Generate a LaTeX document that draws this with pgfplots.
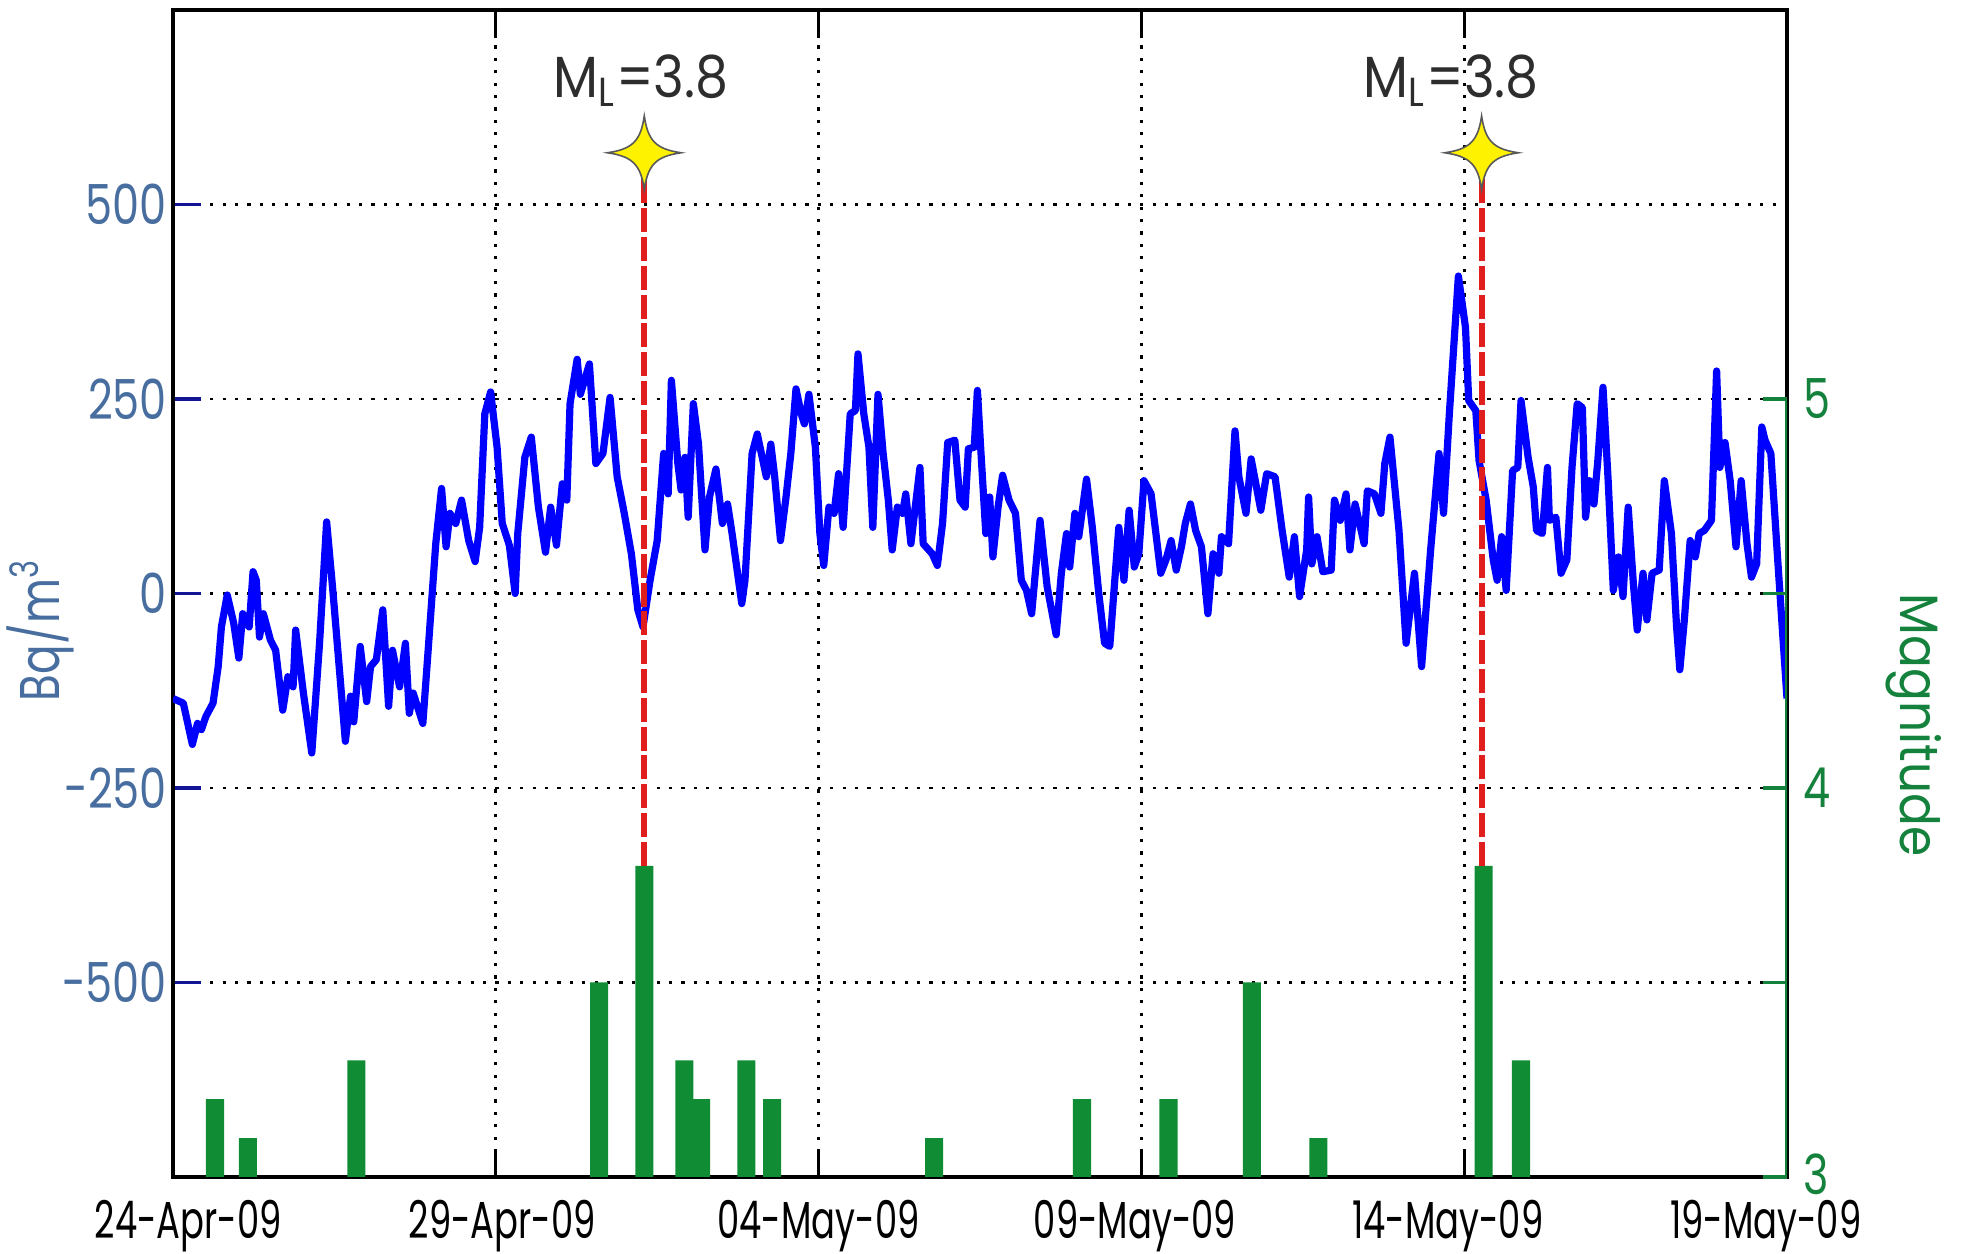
\documentclass[border=0pt]{standalone}
\usepackage{fontspec}
\setmainfont{Poppins}[FakeStretch=0.9]
\newfontfamily\xtickfont{Poppins}[FakeStretch=0.68]
\newfontfamily\ytickfont{Poppins}[FakeStretch=0.78]
\usepackage{pgfplots}
\pgfplotsset{compat=1.18}

\definecolor{radonblue}{RGB}{0,0,255}
\definecolor{labelblue}{RGB}{72,110,160}
\definecolor{tickblue}{RGB}{20,20,150}
\definecolor{maggreen}{RGB}{16,140,52}
\definecolor{axgreen}{RGB}{20,130,60}
\definecolor{quakered}{RGB}{225,30,30}
\definecolor{textgray}{RGB}{45,45,45}

% four-pointed star used for the quake markers
\pgfdeclareplotmark{sparkle}{%
  \pgfpathmoveto{\pgfqpoint{0pt}{\pgfplotmarksize}}%
  \pgfpathcurveto{\pgfqpoint{0.1\pgfplotmarksize}{0.32\pgfplotmarksize}}{\pgfqpoint{0.32\pgfplotmarksize}{0.1\pgfplotmarksize}}{\pgfqpoint{\pgfplotmarksize}{0pt}}%
  \pgfpathcurveto{\pgfqpoint{0.32\pgfplotmarksize}{-0.1\pgfplotmarksize}}{\pgfqpoint{0.1\pgfplotmarksize}{-0.32\pgfplotmarksize}}{\pgfqpoint{0pt}{-\pgfplotmarksize}}%
  \pgfpathcurveto{\pgfqpoint{-0.1\pgfplotmarksize}{-0.32\pgfplotmarksize}}{\pgfqpoint{-0.32\pgfplotmarksize}{-0.1\pgfplotmarksize}}{\pgfqpoint{-\pgfplotmarksize}{0pt}}%
  \pgfpathcurveto{\pgfqpoint{-0.32\pgfplotmarksize}{0.1\pgfplotmarksize}}{\pgfqpoint{-0.1\pgfplotmarksize}{0.32\pgfplotmarksize}}{\pgfqpoint{0pt}{\pgfplotmarksize}}%
  \pgfpathclose
  \pgfusepathqfillstroke}

\begin{document}
\begin{tikzpicture}[font=\fontsize{14.5}{17}\selectfont]
\begin{axis}[
  at={(43.25pt,19.25pt)}, anchor=south west,
  scale only axis, width=403.5pt, height=291.75pt,
  xmin=0, xmax=25, ymin=-750, ymax=750,
  axis line style={black, line width=0.8pt},
  xtick={0,5,10,15,20,25},
  xticklabels={\hspace*{7.6pt}24-Apr-09,\hspace*{3.2pt}29-Apr-09,04-May-09,
    09-May-09\hspace*{3.2pt},14-May-09\hspace*{8.2pt},19-May-09\hspace*{10.6pt}},
  ytick={-500,-250,0,250,500},
  yticklabels={-500,-250,0,250,500},
  tick align=inside, xtick pos=both, ytick pos=left,
  major tick length=7pt,
  xtick style={black, line width=0.8pt},
  ytick style={tickblue, line width=0.8pt},
  yticklabel style={labelblue, xshift=2pt, font=\ytickfont\fontsize{13.8}{16}\selectfont},
  xticklabel style={black, inner sep=0pt, yshift=-5.5pt, font=\xtickfont\fontsize{13}{15}\selectfont},
  xmajorgrids, ymajorgrids,
  grid style={black, line width=0.7pt, dash pattern=on 0.8pt off 2.3pt},
  /pgf/number format/assume math mode=true,
]
\addplot[radonblue, line width=1.8pt, line join=round] coordinates {
(0,-135) (0.16,-141) (0.30,-194) (0.38,-167) (0.44,-175) (0.51,-158) (0.62,-141)
(0.70,-94) (0.75,-43) (0.84,-2) (0.94,-38) (1.02,-83) (1.08,-26) (1.18,-43)
(1.24,28) (1.29,17) (1.34,-56) (1.40,-26) (1.51,-60) (1.59,-73) (1.70,-150)
(1.78,-107) (1.86,-120) (1.90,-47) (2.02,-128) (2.15,-205) (2.27,-64) (2.38,92)
(2.48,0) (2.67,-190) (2.75,-132) (2.80,-165) (2.90,-68) (3.00,-139) (3.06,-94)
(3.15,-85) (3.25,-21) (3.34,-145) (3.40,-73) (3.51,-120) (3.60,-64) (3.66,-154)
(3.72,-128) (3.87,-167) (3.96,-64) (4.07,64) (4.16,135) (4.23,60) (4.29,103)
(4.38,90) (4.47,120) (4.58,68) (4.68,41) (4.75,85) (4.83,231) (4.92,259)
(5.02,188) (5.10,90) (5.21,62) (5.30,0) (5.34,77) (5.45,175) (5.55,201)
(5.66,111) (5.77,53) (5.85,111) (5.94,62) (6.03,141) (6.10,120) (6.15,244)
(6.26,301) (6.31,256) (6.45,295) (6.55,167) (6.66,180) (6.77,252) (6.88,150)
(6.99,103) (7.10,51) (7.20,-21) (7.28,-43) (7.39,17) (7.50,68) (7.60,180)
(7.67,128) (7.72,274) (7.82,167) (7.87,133) (7.93,175) (7.98,98) (8.06,244)
(8.14,192) (8.24,56) (8.31,124) (8.41,160) (8.51,90) (8.59,115) (8.66,77)
(8.81,-13) (8.86,17) (8.97,180) (9.05,205) (9.19,150) (9.26,192) (9.32,150)
(9.41,68) (9.49,120) (9.57,180) (9.65,263) (9.73,231) (9.78,218) (9.85,256)
(9.95,188) (10.02,77) (10.08,36) (10.16,111) (10.24,103) (10.31,154) (10.38,85)
(10.49,231) (10.57,235) (10.61,308) (10.70,231) (10.78,188) (10.84,85) (10.92,256)
(11.00,180) (11.08,120) (11.14,56) (11.22,111) (11.30,103) (11.35,128) (11.43,64)
(11.57,162) (11.62,64) (11.76,51) (11.84,36) (11.92,90) (12.00,194) (12.11,197)
(12.19,120) (12.27,111) (12.32,186) (12.41,188) (12.46,261) (12.51,188) (12.59,77)
(12.65,124) (12.70,47) (12.78,111) (12.85,152) (12.95,120) (13.05,103) (13.14,17)
(13.22,4) (13.30,-26) (13.43,94) (13.54,9) (13.68,-53) (13.76,26) (13.84,77)
(13.89,34) (13.97,103) (14.03,73) (14.15,147) (14.24,85) (14.34,0) (14.43,-64)
(14.51,-68) (14.65,85) (14.73,17) (14.81,107) (14.89,34) (14.96,51) (15.04,145)
(15.15,128) (15.30,26) (15.38,43) (15.46,68) (15.54,30) (15.62,60) (15.68,90)
(15.76,115) (15.84,81) (15.93,60) (16.03,-26) (16.11,51) (16.20,26) (16.24,73)
(16.35,64) (16.45,209) (16.51,150) (16.62,103) (16.70,173) (16.85,107) (16.94,154)
(17.07,150) (17.18,81) (17.29,21) (17.37,73) (17.45,-4) (17.56,56) (17.59,124)
(17.64,38) (17.72,73) (17.81,28) (17.94,30) (17.99,120) (18.08,94) (18.17,128)
(18.23,56) (18.31,115) (18.45,64) (18.50,132) (18.61,128) (18.71,103) (18.77,167)
(18.85,201) (18.99,81) (19.10,-64) (19.23,26) (19.34,-94) (19.48,56) (19.61,180)
(19.68,103) (19.77,231) (19.91,408) (20.02,342) (20.07,248) (20.18,235) (20.23,171)
(20.34,120) (20.45,43) (20.51,17) (20.58,73) (20.65,4) (20.75,158) (20.83,162)
(20.88,248) (20.99,175) (21.07,137) (21.12,81) (21.21,77) (21.29,162) (21.32,94)
(21.42,98) (21.50,26) (21.59,43) (21.67,162) (21.75,244) (21.83,239) (21.88,98)
(21.94,145) (22.01,115) (22.07,171) (22.15,265) (22.23,145) (22.31,4) (22.39,47)
(22.46,-4) (22.54,111) (22.62,13) (22.68,-47) (22.77,26) (22.83,-34) (22.91,26)
(23.02,30) (23.10,145) (23.21,77) (23.29,-43) (23.34,-98) (23.41,-34) (23.50,68)
(23.58,47) (23.64,77) (23.72,81) (23.83,94) (23.91,286) (23.96,162) (24.04,194)
(24.12,145) (24.21,60) (24.29,145) (24.38,64) (24.45,21) (24.53,38) (24.61,214)
(24.66,197) (24.75,180) (24.85,51) (25.00,-135)
};
\end{axis}

\begin{axis}[
  at={(43.25pt,19.25pt)}, anchor=south west,
  scale only axis, width=403.5pt, height=291.75pt,
  xmin=0, xmax=25, ymin=3, ymax=6,
  hide x axis,
  axis y line*=right,
  y axis line style={draw=none},
  ytick={3,3.5,4,4.5,5}, yticklabels={\raisebox{1.5pt}{3},,4,,5},
  tick align=inside, major tick length=6pt,
  ytick style={axgreen, line width=0.8pt},
  yticklabel style={axgreen, inner sep=0pt, xshift=4pt, font=\ytickfont\fontsize{13.8}{16}\selectfont},
  /pgf/number format/assume math mode=true,
]
\addplot[ybar, bar width=0.28, bar shift=0pt, fill=maggreen, draw=none] coordinates {
(0.65,3.2) (1.16,3.1) (2.84,3.3) (6.60,3.5) (7.30,3.8) (7.92,3.3) (8.18,3.2)
(8.88,3.3) (9.28,3.2) (11.79,3.1) (14.08,3.2) (15.42,3.2) (16.71,3.5) (17.74,3.1)
(20.30,3.8) (20.88,3.3)
};
\addplot[quakered, line width=1.5pt, dash pattern=on 6pt off 1.2pt] coordinates {(7.30,3.8) (7.30,5.6)};
\addplot[quakered, line width=1.5pt, dash pattern=on 6pt off 1.2pt] coordinates {(20.27,3.8) (20.27,5.6)};
\addplot[only marks, mark=sparkle, mark size=9.2pt,
  mark options={fill=yellow, draw=black!65, line width=0.4pt}]
  coordinates {(7.30,5.633) (20.27,5.633)};
\draw[axgreen, line width=0.9pt] (axis cs:25,3) -- (axis cs:25,5);
\node[textgray, anchor=base] at (axis cs:7.25,5.775) {M\textsubscript{L}=3.8};
\node[textgray, anchor=base] at (axis cs:19.80,5.775) {M\textsubscript{L}=3.8};
\end{axis}
% axis titles, placed outside the clipped plot area
\node[labelblue, rotate=90, font=\ytickfont\fontsize{14}{16}\selectfont] at (10pt,156pt) {Bq/m\textsuperscript{3}};
\node[axgreen, rotate=-90, font=\fontsize{13.5}{16}\selectfont] at (478.5pt,132.25pt) {Magnitude};
\pgfresetboundingbox
\path[use as bounding box] (0,0) rectangle (490.75pt,313.5pt);
\end{tikzpicture}
\end{document}
